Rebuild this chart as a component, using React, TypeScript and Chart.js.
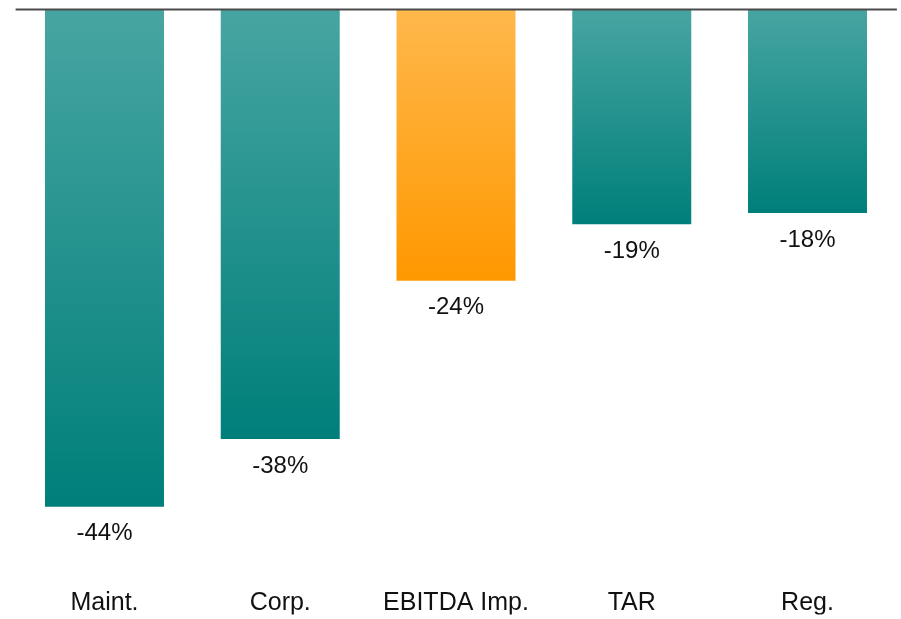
import React, { useEffect, useRef } from "react";
import { Chart, registerables } from "chart.js";

Chart.register(...registerables);

const categories = ["Maint.", "Corp.", "EBITDA Imp.", "TAR", "Reg."];
const values = [-44, -38, -24, -19, -18];
const highlight = [false, false, true, false, false];
const valueLabels = ["-44%", "-38%", "-24%", "-19%", "-18%"];

const TEAL_TOP = "#47a5a1";
const TEAL_BOTTOM = "#007f7a";
const ORANGE_TOP = "#ffb84c";
const ORANGE_BOTTOM = "#ff9800";

const FONT = "Helvetica, Arial, 'Liberation Sans', sans-serif";

export default function App() {
  const ref = useRef<HTMLCanvasElement | null>(null);

  useEffect(() => {
    document.body.style.margin = "0";
    document.body.style.overflow = "hidden";
    const canvas = ref.current;
    if (!canvas) return;

    const zeroLine = {
      id: "zeroLine",
      afterDatasetsDraw(chart: any) {
        const { ctx, chartArea } = chart;
        const y = chart.scales.y.getPixelForValue(0);
        ctx.save();
        ctx.strokeStyle = "#4a4a4a";
        ctx.lineWidth = 2;
        ctx.beginPath();
        ctx.moveTo(chartArea.left - 1, y);
        ctx.lineTo(chartArea.right + 1.5, y);
        ctx.stroke();
        ctx.restore();
      },
    };

    const valueLabelPlugin = {
      id: "valueLabels",
      afterDatasetsDraw(chart: any) {
        const { ctx } = chart;
        const meta = chart.getDatasetMeta(0);
        ctx.save();
        ctx.fillStyle = "#111";
        ctx.font = `24px ${FONT}`;
        ctx.textAlign = "center";
        ctx.textBaseline = "middle";
        meta.data.forEach((bar: any, i: number) => {
          ctx.fillText(valueLabels[i], bar.x, bar.y + 27);
        });
        ctx.restore();
      },
    };

    const chart = new Chart(canvas, {
      type: "bar",
      data: {
        labels: categories,
        datasets: [
          {
            data: values,
            borderWidth: 0,
            backgroundColor: (c: any) => {
              const ch = c.chart;
              const area = ch.chartArea;
              const i = c.dataIndex;
              const hl = highlight[i];
              if (!area || i === undefined) return hl ? ORANGE_BOTTOM : TEAL_BOTTOM;
              const y0 = ch.scales.y.getPixelForValue(0);
              const y1 = ch.scales.y.getPixelForValue(values[i]);
              const g = ch.ctx.createLinearGradient(0, y0, 0, y1);
              g.addColorStop(0, hl ? ORANGE_TOP : TEAL_TOP);
              g.addColorStop(1, hl ? ORANGE_BOTTOM : TEAL_BOTTOM);
              return g;
            },
            barPercentage: 0.677,
            categoryPercentage: 1,
          },
        ],
      },
      options: {
        animation: false,
        responsive: false,
        maintainAspectRatio: false,
        layout: { padding: { left: 16.6, right: 5.6, top: 9.5, bottom: 4.5 } },
        plugins: { legend: { display: false }, tooltip: { enabled: false } },
        scales: {
          x: {
            grid: { display: false, drawTicks: false },
            border: { display: false },
            ticks: {
              color: "#111",
              font: { size: 25, family: FONT },
              padding: 13.5,
              maxRotation: 0,
              autoSkip: false,
            },
            afterFit: (axis: any) => {
              axis.height = 40;
            },
          },
          y: {
            display: false,
            min: -50,
            max: 0,
          },
        },
      },
      plugins: [zeroLine, valueLabelPlugin],
    });

    return () => chart.destroy();
  }, []);

  return (
    <div style={{ width: 901, height: 619 }}>
      <canvas ref={ref} width={901} height={619} style={{ display: "block" }} />
    </div>
  );
}
